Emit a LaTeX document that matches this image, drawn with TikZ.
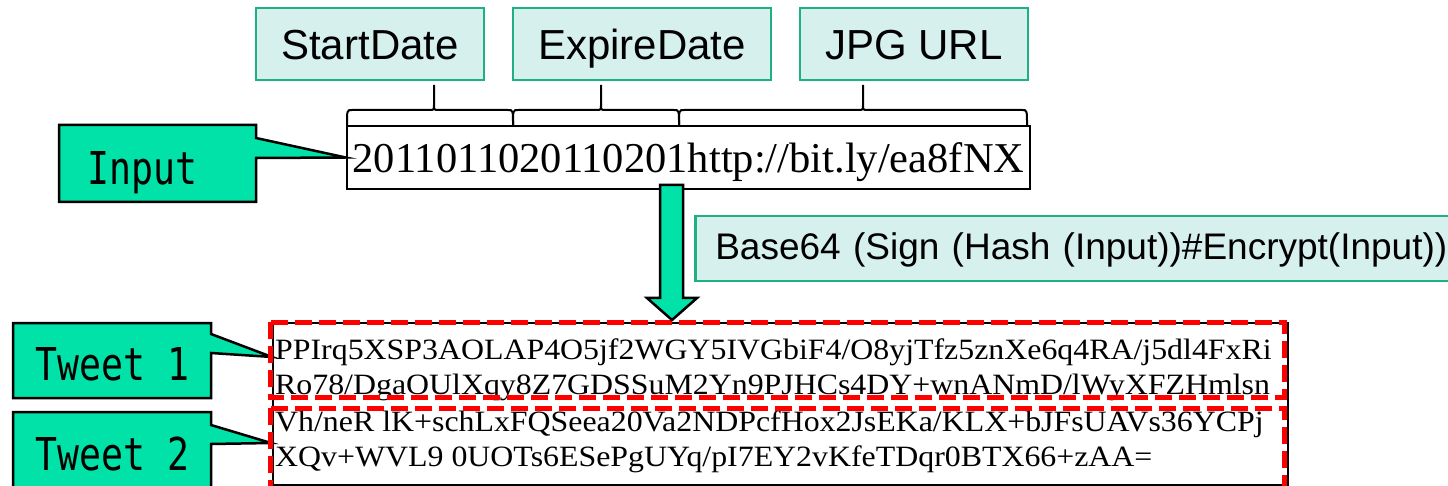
\documentclass[tikz,border=0pt]{standalone}
\usepackage{fontspec}
\setmainfont{Liberation Sans}
\newfontfamily\tnr{Liberation Serif}
\newfontfamily\gmono{DejaVu Sans Mono}
\definecolor{boxfill}{RGB}{214,240,238}
\definecolor{boxline}{RGB}{30,176,130}
\definecolor{mint}{RGB}{0,226,168}
\definecolor{dashred}{RGB}{255,0,0}
\newcommand\mybrace[3]{\draw[bracepath] (#1,125) .. controls (#1,110) .. (#1+5,110) -- (#3-5,110) .. controls (#3,110) .. (#3,105) -- (#3,85) (#3,105) .. controls (#3,110) .. (#3+5,110) -- (#2-5,110) .. controls (#2,110) .. (#2,125);}
\newcommand\twtext[1]{\scalebox{1.08}[1]{#1}}
\begin{document}
\begin{tikzpicture}[x=1pt,y=-1pt,
  fieldbox/.style={draw=boxline, fill=boxfill, line width=2.5pt, inner sep=0pt, minimum height=72pt, text height=32pt, text depth=0pt, font=\fontsize{42}{50}\selectfont},
  calloutshape/.style={draw=black, fill=mint, line width=2.5pt, line join=miter},
  calltext/.style={anchor=base west, inner sep=0pt, font=\gmono\fontsize{36.5}{40}\selectfont},
  bracepath/.style={draw=black, line width=2pt},
  tweetline/.style={anchor=base west, inner sep=0pt, font=\tnr\fontsize{29.5}{34}\selectfont},
  reddash/.style={draw=dashred, line width=5pt, dash pattern=on 17pt off 7pt},
  blockarrow/.style={draw=black, fill=mint, line width=2.5pt, line join=miter}
]
\useasboundingbox (0,0) rectangle (1448,486);

% field labels
\node[fieldbox, minimum width=228pt] (start) at (370,44) {StartDate};
\node[fieldbox, minimum width=258pt] (expire) at (642,44) {ExpireDate};
\node[fieldbox, minimum width=228pt] (jpg) at (914,44) {JPG URL};

% braces
\mybrace{347}{513}{434}
\mybrace{513}{679}{601}
\mybrace{679}{1027}{863}

% input value
\node[draw=black, fill=white, line width=2.5pt, minimum width=683pt, minimum height=63pt, inner sep=0pt, text height=31pt, text depth=0pt, font=\tnr\fontsize{42.5}{50}\selectfont] (val) at (688.5,157.5) {2011011020110201http://bit.ly/ea8fNX};

% Input callout
\draw[calloutshape] (59,125) -- (256,125) -- (256,138) -- (val.west) -- (256,158) -- (256,202) -- (59,202) -- cycle;
\node[calltext] (input) at (87,185) {\scalebox{1}[1.24]{Input}};

% encoding label
\node[fieldbox, anchor=west, minimum height=65pt, text width=740pt, align=left, inner xsep=20pt, text height=25pt, text depth=2pt, font=\fontsize{37}{44}\selectfont] (enc) at (694,248.5) {Base64 (Sign (Hash (Input))\#Encrypt(Input))};

% tweet callouts
\coordinate (t1tip) at (272,357);
\coordinate (t2tip) at (271,443);
\draw[calloutshape] (13,323) -- (211,323) -- (211,334) -- (t1tip) -- (211,353) -- (211,398) -- (13,398) -- cycle;
\draw[calloutshape] (13,412) -- (211,412) -- (211,425) -- (t2tip) -- (211,444) -- (211,500) -- (13,500) -- cycle;
\node[calltext] (tweet1) at (35,380) {\scalebox{1}[1.24]{Tweet 1}};
\node[calltext] (tweet2) at (35,470) {\scalebox{1}[1.24]{Tweet 2}};

% tweet text frame
\node[draw=black, line width=2pt, anchor=north west, minimum width=1015pt, minimum height=162pt, inner sep=0pt] (frame) at (272,322) {};
\node[tweetline] (l1) at (275,359) {\twtext{PPIrq5XSP3AOLAP4O5jf2WGY5IVGbiF4/O8yjTfz5znXe6q4RA/j5dl4FxRi}};
\node[tweetline] (l2) at (275,394) {\twtext{Ro78/DgaOUlXqy8Z7GDSSuM2Yn9PJHCs4DY+wnANmD/lWyXFZHmlsn}};
\node[tweetline] (l3) at (275,431) {\twtext{Vh/neR lK+schLxFQSeea20Va2NDPcfHox2JsEKa/KLX+bJFsUAVs36YCPj}};
\node[tweetline] (l4) at (275,466) {\twtext{XQv+WVL9 0UOTs6ESePgUYq/pI7EY2vKfeTDqr0BTX66+zAA=}};

% red dashed tweet boxes
\draw[reddash] (270,322) rectangle (1284,397);
\draw[reddash] (270,408) rectangle (1284,495);

% block arrow
\draw[blockarrow] (660,185) -- (683,185) -- (683,298) -- (697,298) -- (672,320) -- (647,298) -- (660,298) -- cycle;
\end{tikzpicture}
\end{document}
